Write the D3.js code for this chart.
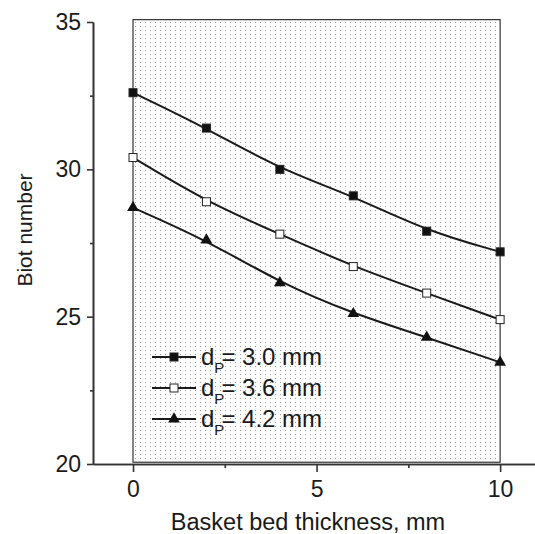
<!DOCTYPE html>
<html>
<head>
<meta charset="utf-8">
<script src="https://cdn.jsdelivr.net/npm/d3@7"></script>
<style>
  body { margin: 0; background: #fff; }
  svg { display: block; }
  text { font-family: "Liberation Sans", Arial, sans-serif; fill: #1a1a1a; }
</style>
</head>
<body>
<script>
// chart data
var thickness = [0, 2, 4, 6, 8, 10];
var biot30 = [32.6, 31.4, 30.0, 29.1, 27.9, 27.2];
var biot36 = [30.4, 28.9, 27.8, 26.7, 25.8, 24.9];
var biot42 = [28.7, 27.6, 26.15, 25.1, 24.3, 23.45];
var seriesNames = ["3.0 mm", "3.6 mm", "4.2 mm"];
var xTicks = [0, 5, 10];
var xMinorTicks = [2.5, 7.5];
var yTicks = [20, 25, 30, 35];
var yMinorTicks = [22.5, 27.5, 32.5];

var svgWidth = 535;
var svgHeight = 534;

var svg = d3.select("body")
  .append("svg")
  .attr("width", svgWidth)
  .attr("height", svgHeight);

// scales: x 0..10 sits at 133..500, axis line runs 93..535
var xScale = d3.scaleLinear()
  .domain([-1.09, 10.95])
  .range([93, 535]);
var yScale = d3.scaleLinear()
  .domain([20, 35])
  .range([464, 22]);

// dotted fill pattern
var defs = svg.append("defs");
var pat = defs.append("pattern")
  .attr("id", "dots")
  .attr("patternUnits", "userSpaceOnUse")
  .attr("width", 5)
  .attr("height", 4)
  .attr("x", 135)
  .attr("y", 22);
pat.append("rect")
  .attr("width", 1)
  .attr("height", 1)
  .attr("fill", "#999");

// shaded data box
svg.append("rect")
  .attr("x", xScale(0))
  .attr("y", yScale(35.08))
  .attr("width", xScale(10) - xScale(0))
  .attr("height", yScale(20.06) - yScale(35.08))
  .attr("fill", "url(#dots)")
  .attr("stroke", "#333")
  .attr("stroke-width", 1.2);

// axes
var bottomAxis = d3.axisBottom(xScale).tickValues(xTicks).tickSize(8).tickSizeOuter(0).tickPadding(9);
var bottomMinor = d3.axisBottom(xScale).tickValues(xMinorTicks).tickSize(4).tickSizeOuter(0).tickFormat("");
var leftAxis = d3.axisLeft(yScale).tickValues(yTicks).tickSize(6).tickSizeOuter(0).tickPadding(6);
var leftMinor = d3.axisLeft(yScale).tickValues(yMinorTicks).tickSize(3).tickSizeOuter(0).tickFormat("");

svg.append("g").attr("transform", "translate(0," + yScale(20) + ")").call(bottomAxis);
svg.append("g").attr("transform", "translate(0," + yScale(20) + ")").call(bottomMinor);
svg.append("g").attr("transform", "translate(" + xScale(-1.09) + ",0)").call(leftAxis);
svg.append("g").attr("transform", "translate(" + xScale(-1.09) + ",0)").call(leftMinor);

svg.selectAll(".domain, .tick line")
  .attr("stroke", "#333")
  .attr("stroke-width", 1.6);
svg.selectAll(".tick text")
  .style("font-size", "23px")
  .attr("fill", "#1a1a1a");

// axis titles
svg.append("text")
  .attr("x", 308)
  .attr("y", 530)
  .attr("text-anchor", "middle")
  .style("font-size", "23.5px")
  .text("Basket bed thickness, mm");

svg.append("text")
  .attr("transform", "rotate(-90)")
  .attr("x", -230)
  .attr("y", 32)
  .attr("text-anchor", "middle")
  .style("font-size", "21px")
  .text("Biot number");

// lines and markers
var allSeries = [biot30, biot36, biot42];
var markerTypes = ["fillSquare", "openSquare", "triangle"];

// smooth curve like the original plot
var line = d3.line()
  .x(function(d, i) { return xScale(thickness[i]); })
  .y(function(d) { return yScale(d); })
  .curve(d3.curveBasis);

function drawMarker(g, type, cx, cy) {
  if (type === "triangle") {
    g.append("path")
      .attr("d", d3.symbol().type(d3.symbolTriangle).size(60)())
      .attr("transform", "translate(" + cx + "," + cy + ")")
      .attr("fill", "#111");
  } else {
    g.append("rect")
      .attr("x", cx - 4)
      .attr("y", cy - 4)
      .attr("width", 8)
      .attr("height", 8)
      .attr("fill", type === "fillSquare" ? "#111" : "#fff")
      .attr("stroke", "#222")
      .attr("stroke-width", 1);
  }
}

allSeries.forEach(function(values, s) {
  svg.append("path")
    .datum(values)
    .attr("d", line)
    .attr("fill", "none")
    .attr("stroke", "#1a1a1a")
    .attr("stroke-width", 2);
  var g = svg.append("g");
  values.forEach(function(v, i) {
    drawMarker(g, markerTypes[s], xScale(thickness[i]), yScale(v));
  });
});

// legend
var legendY = [357, 388, 419];
seriesNames.forEach(function(name, s) {
  var g = svg.append("g");
  g.append("line")
    .attr("x1", 152).attr("x2", 196)
    .attr("y1", legendY[s]).attr("y2", legendY[s])
    .attr("stroke", "#1a1a1a")
    .attr("stroke-width", 2);
  drawMarker(g, markerTypes[s], 174, legendY[s]);
  var t = g.append("text")
    .attr("x", 201)
    .attr("y", legendY[s] + 8)
    .style("font-size", "24px");
  t.append("tspan").text("d");
  t.append("tspan").attr("dy", 8).style("font-size", "15px").text("P");
  t.append("tspan").attr("dy", -8).attr("dx", -3).text("= " + name);
});
</script>
</body>
</html>
